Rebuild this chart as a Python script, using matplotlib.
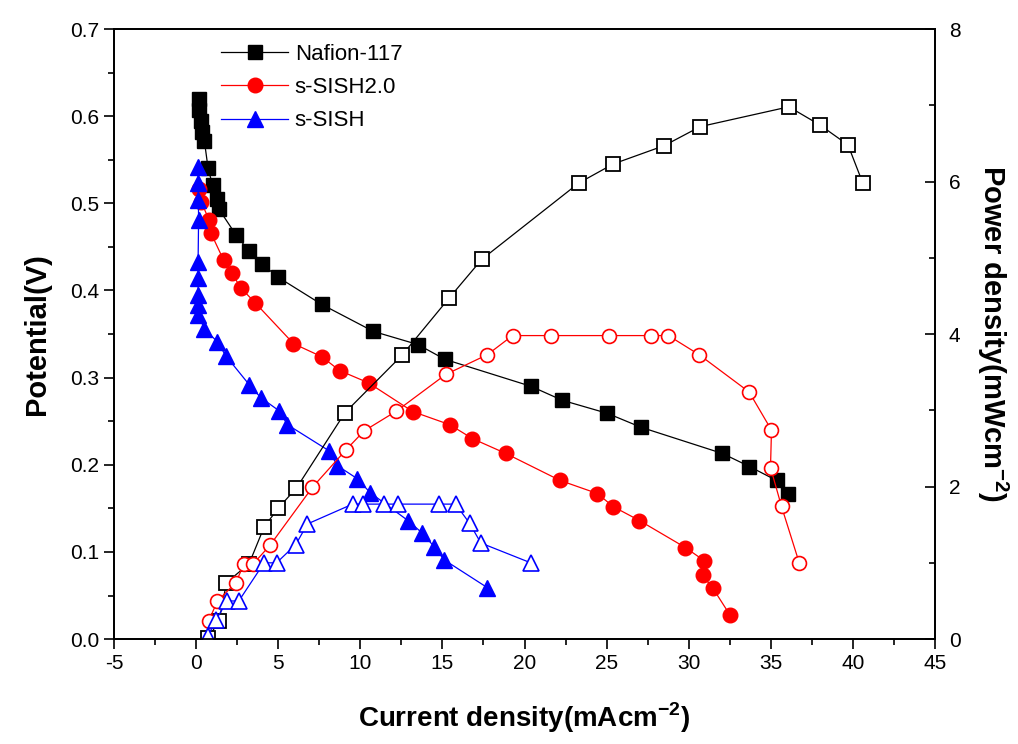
import matplotlib
matplotlib.use('Agg')
import matplotlib.pyplot as plt
from matplotlib.ticker import MultipleLocator

plt.rcParams['font.family'] = ['Liberation Sans', 'DejaVu Sans']
plt.rcParams['axes.unicode_minus'] = False
plt.rcParams['mathtext.fontset'] = 'custom'
plt.rcParams['mathtext.rm'] = 'Liberation Sans'
plt.rcParams['mathtext.bf'] = 'Liberation Sans:bold'

# polarisation curves (potential, V)
naf_i = [0.15, 0.2, 0.28, 0.37, 0.5, 0.73, 1.0, 1.3, 1.4, 2.42, 3.23, 4.04, 5.01,
         7.65, 10.8, 13.5, 15.15, 20.4, 22.3, 25.05, 27.1, 32.05, 33.7, 35.35, 36.05]
naf_v = [0.620, 0.607, 0.594, 0.582, 0.572, 0.540, 0.521, 0.505, 0.493, 0.464, 0.445,
         0.430, 0.415, 0.384, 0.353, 0.338, 0.321, 0.290, 0.274, 0.259, 0.243, 0.213,
         0.198, 0.182, 0.166]

s20_i = [0.2, 0.3, 0.79, 0.9, 1.67, 2.17, 2.72, 3.59, 5.93, 7.65, 8.75, 10.5, 13.2,
         15.45, 16.83, 18.86, 22.17, 24.44, 25.4, 27.0, 29.8, 30.94, 30.84, 31.45, 32.5]
s20_v = [0.516, 0.502, 0.481, 0.466, 0.435, 0.420, 0.403, 0.386, 0.339, 0.324, 0.308,
         0.294, 0.261, 0.246, 0.230, 0.213, 0.182, 0.167, 0.152, 0.136, 0.105, 0.090,
         0.073, 0.059, 0.028]

ss_i = [0.12, 0.12, 0.14, 0.15, 0.12, 0.12, 0.12, 0.13, 0.14, 0.5, 1.3, 1.81, 3.23,
        3.94, 5.05, 5.56, 8.1, 8.6, 9.82, 10.6, 12.9, 13.75, 14.5, 15.1, 17.74]
ss_v = [0.542, 0.523, 0.504, 0.481, 0.433, 0.414, 0.395, 0.383, 0.372, 0.356, 0.341,
        0.325, 0.292, 0.277, 0.262, 0.246, 0.216, 0.199, 0.184, 0.168, 0.136, 0.122,
        0.106, 0.091, 0.059]

# power density curves (mW cm^-2)
naf_pi = [0.75, 1.4, 1.85, 3.23, 4.14, 5.01, 6.11, 9.07, 12.53, 15.4, 17.4, 23.3,
          25.4, 28.5, 30.7, 36.1, 38.0, 39.7, 40.6]
naf_p = [0.02, 0.24, 0.74, 0.99, 1.47, 1.72, 1.98, 2.97, 3.72, 4.47, 4.98, 5.98,
         6.23, 6.47, 6.72, 6.98, 6.74, 6.48, 5.98]

s20_pi = [0.77, 1.3, 2.42, 2.92, 3.49, 4.5, 7.08, 9.12, 10.23, 12.2, 15.2, 17.74,
          19.27, 21.6, 25.15, 27.7, 28.76, 30.63, 33.68, 35.04, 34.98, 35.65, 36.73]
s20_p = [0.24, 0.50, 0.74, 0.99, 0.99, 1.23, 1.99, 2.48, 2.73, 2.99, 3.47, 3.73,
         3.98, 3.98, 3.98, 3.98, 3.98, 3.73, 3.24, 2.74, 2.25, 1.74, 1.00]

ss_pi = [0.73, 1.2, 1.9, 2.6, 4.14, 4.9, 6.07, 6.78, 9.53, 10.14, 11.46, 12.28,
         14.78, 15.8, 16.65, 17.34, 20.38]
ss_p = [0.04, 0.25, 0.50, 0.50, 1.00, 1.00, 1.24, 1.51, 1.77, 1.77, 1.77, 1.77,
        1.77, 1.77, 1.52, 1.26, 1.00]

fig = plt.figure(figsize=(10.18, 7.44), dpi=100)
ax = fig.add_axes([0.112, 0.141, 0.8065, 0.820])
ax2 = ax.twinx()

lw = 0.9
ax.plot(naf_i, naf_v, '-s', color='black', lw=lw, ms=10.5, label='Nafion-117')
ax.plot(s20_i, s20_v, '-o', color='red', lw=lw, ms=10.5, label='s-SISH2.0')
ax.plot(ss_i, ss_v, '-^', color='blue', lw=lw, ms=11.5, label='s-SISH')

ax2.plot(naf_pi, naf_p, '-s', color='black', lw=lw, ms=10.5, mfc='white', mew=1.3)
ax2.plot(s20_pi, s20_p, '-o', color='red', lw=lw, ms=10, mfc='white', mew=1.2)
ax2.plot(ss_pi, ss_p, '-^', color='blue', lw=lw, ms=11, mfc='white', mew=1.2)

ax.set_xlim(-5, 45)
ax.set_ylim(0, 0.7)
ax2.set_ylim(0, 8)

ax.xaxis.set_major_locator(MultipleLocator(5))
ax.xaxis.set_minor_locator(MultipleLocator(2.5))
ax.yaxis.set_major_locator(MultipleLocator(0.1))
ax.yaxis.set_minor_locator(MultipleLocator(0.05))
ax2.yaxis.set_major_locator(MultipleLocator(2))
ax2.yaxis.set_minor_locator(MultipleLocator(1))

ax.tick_params(which='major', direction='out', length=7, width=1.2, labelsize=15)
ax.tick_params(which='minor', direction='out', length=4, width=1.2)
ax2.tick_params(which='major', direction='in', length=7, width=1.2, labelsize=15, pad=10)
ax2.tick_params(which='minor', direction='in', length=4, width=1.2)

for a in (ax, ax2):
    for sp in a.spines.values():
        sp.set_linewidth(1.3)

ax.set_xlabel('Current density(mAcm$^{\\mathbf{-2}}$)', fontsize=20,
              fontweight='bold', labelpad=20)
ax.set_ylabel('Potential(V)', fontsize=21, fontweight='bold', labelpad=14)
ax2.set_ylabel('Power density(mWcm$^{\\mathbf{-2}}$)', fontsize=21,
               fontweight='bold', rotation=270, va='bottom', labelpad=10)

ax.legend(loc='upper left', bbox_to_anchor=(0.12, 0.99), frameon=False,
          fontsize=16, handlelength=3.0, labelspacing=0.55, borderaxespad=0,
          handletextpad=0.3)

fig.savefig('out.png', dpi=100)
